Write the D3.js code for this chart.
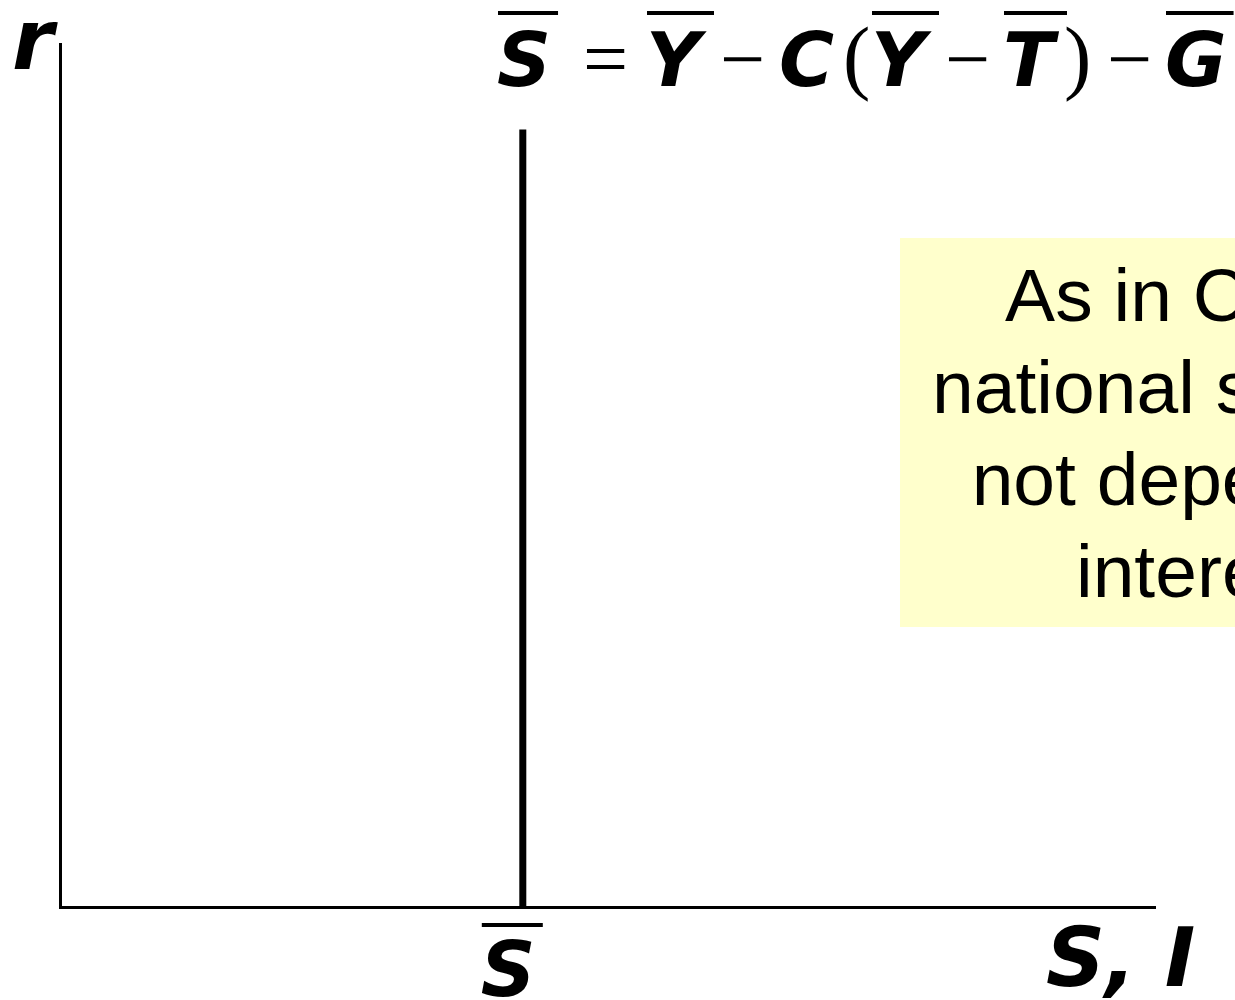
<!DOCTYPE html>
<html>
<head>
<meta charset="utf-8">
<script src="https://cdn.jsdelivr.net/npm/d3@7"></script>
<style>
  body { margin: 0; background: #fff; }
  svg { display: block; }
</style>
</head>
<body>
<div id="chart"></div>
<script>
let W = 1235, H = 1000

// values (axis units 0..100)
const savingLevel = [42.2]          // S-bar on the S, I axis
const savingTop = [90]              // how far up the vertical S line runs
const axisLabels = ["r", "S, I"]
const eqTokens = ["S", "=", "Y", "\u2212", "C", "(", "Y", "\u2212", "T", ")", "\u2212", "G"]
const eqBarred = [true, false, true, false, false, false, true, false, true, false, false, true]
const noteLines = ["As in Chapter 3,", "national saving does", "not depend on the", "interest rate"]

// where each equation token starts
const eqX = [497, 583, 646, 720, 779, 843, 871, 945, 1003, 1064, 1107, 1165]

let svg = d3.select("#chart")
            .append("svg")
            .attr("width", W)
            .attr("height", H)

let x = d3.scaleLinear()
          .domain([0, 100])
          .range([60.5, 1156])
let y = d3.scaleLinear()
          .domain([0, 100])
          .range([907.5, 43])

// note box, runs off the right edge
svg.append("rect")
   .attr("x", 900)
   .attr("y", 238)
   .attr("width", 760)
   .attr("height", 389)
   .attr("fill", "#ffffcc")

svg.selectAll(".note")
   .data(noteLines)
   .enter()
   .append("text")
   .attr("class", "note")
   .attr("x", 1274)
   .attr("y", function(d, i) { return 321 + i * 92 })
   .attr("text-anchor", "middle")
   .style("font-family", "'Liberation Sans', Arial, sans-serif")
   .style("font-size", "75px")
   .text(function(d) { return d })

// axes
svg.append("line")
   .attr("x1", x(0)).attr("x2", x(0))
   .attr("y1", y(100)).attr("y2", y(0) + 1.5)
   .attr("stroke", "#000")
   .attr("stroke-width", 3)
svg.append("line")
   .attr("x1", x(0) - 1.5).attr("x2", x(100))
   .attr("y1", y(0)).attr("y2", y(0))
   .attr("stroke", "#000")
   .attr("stroke-width", 3)

// vertical saving line
svg.selectAll(".sline")
   .data(savingLevel)
   .enter()
   .append("line")
   .attr("class", "sline")
   .attr("x1", function(d) { return x(d) })
   .attr("x2", function(d) { return x(d) })
   .attr("y1", y(savingTop[0]))
   .attr("y2", y(0) + 1.5)
   .attr("stroke", "#000")
   .attr("stroke-width", 7)

let bold = "'DejaVu Sans', Verdana, sans-serif"
let serif = "'Liberation Serif', 'Times New Roman', serif"

// axis labels
svg.append("text")
   .attr("x", 12)
   .attr("y", 69)
   .style("font-family", bold)
   .style("font-weight", "bold")
   .style("font-style", "italic")
   .style("font-size", "84px")
   .text(axisLabels[0])

svg.append("text")
   .attr("x", 1046)
   .attr("y", 986)
   .style("font-family", bold)
   .style("font-weight", "bold")
   .style("font-style", "italic")
   .style("font-size", "82px")
   .text(axisLabels[1])

// S-bar under the axis
let sb = svg.append("g")
sb.append("text")
  .attr("x", x(savingLevel[0]) - 42)
  .attr("y", 996)
  .style("font-family", bold)
  .style("font-weight", "bold")
  .style("font-style", "italic")
  .style("font-size", "76px")
  .text("S")
sb.append("line")
  .attr("x1", x(savingLevel[0]) - 41)
  .attr("x2", x(savingLevel[0]) + 20)
  .attr("y1", 925)
  .attr("y2", 925)
  .attr("stroke", "#000")
  .attr("stroke-width", 4)

// equation for S-bar
let eq = svg.append("g")
eqTokens.forEach(function(t, i) {
  let letter = /[A-Z]/.test(t)
  let paren = (t == "(" || t == ")")
  let tx = eq.append("text")
             .attr("x", eqX[i])
             .attr("y", paren ? 84 : 86)
             .style("font-family", letter ? bold : serif)
             .style("font-weight", letter ? "bold" : "normal")
             .style("font-style", letter ? "italic" : "normal")
             .style("font-size", paren ? "82px" : (letter ? "75px" : "80px"))
             .text(t)
  if (eqBarred[i]) {
    let b = tx.node().getBBox()
    eq.append("line")
      .attr("x1", b.x + 1)
      .attr("x2", b.x + b.width + 7)
      .attr("y1", 13)
      .attr("y2", 13)
      .attr("stroke", "#000")
      .attr("stroke-width", 4)
  }
})
</script>
</body>
</html>
